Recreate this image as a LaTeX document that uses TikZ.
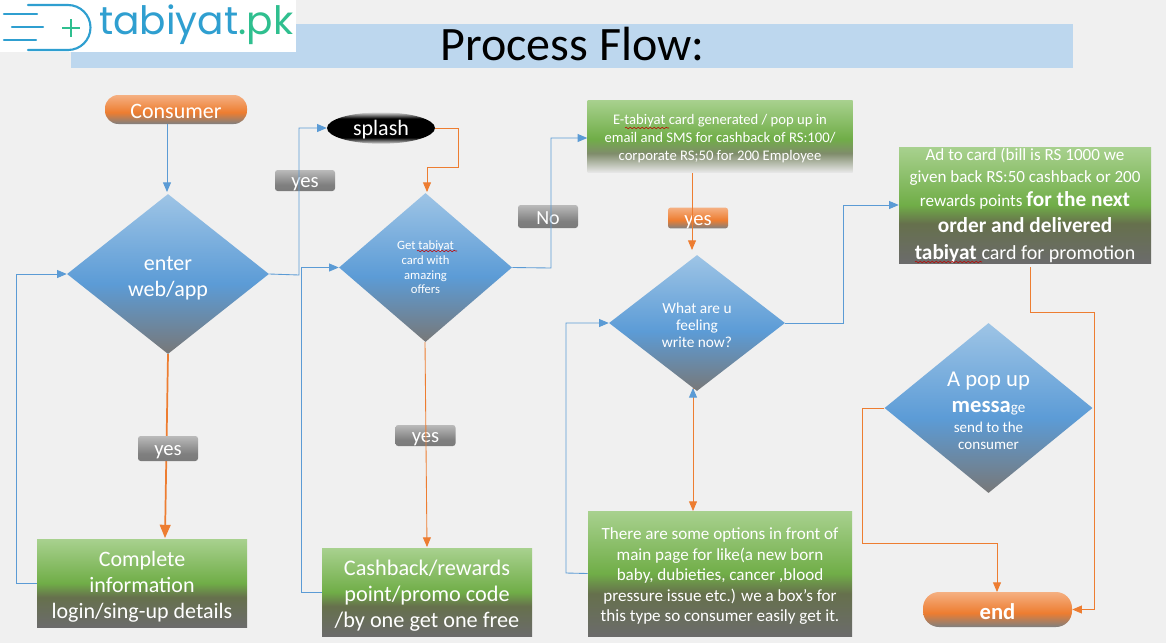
\documentclass[tikz,border=0pt]{standalone}
\usepackage{fontspec}
\setmainfont{Carlito}
\newfontfamily\logofont{Poppins}
\usetikzlibrary{arrows,calc,shapes.geometric,decorations.pathmorphing}

\definecolor{pagebg}{HTML}{F0F0F0}
\definecolor{titlebar}{HTML}{BDD7EE}
\definecolor{flowblue}{HTML}{5B9BD5}
\definecolor{floworange}{HTML}{ED7D31}
\definecolor{logoblue}{HTML}{2F9FD0}
\definecolor{logogreen}{HTML}{2FBF8F}

\pgfdeclareverticalshading{greenfade}{100bp}{rgb(0bp)=(0.42,0.42,0.42); rgb(25bp)=(0.42,0.42,0.42); rgb(42bp)=(0.40,0.44,0.30); rgb(50bp)=(0.44,0.68,0.28); rgb(75bp)=(0.66,0.82,0.56); rgb(100bp)=(0.66,0.82,0.56)}
\pgfdeclareverticalshading{cardfade}{100bp}{rgb(0bp)=(0.90,0.90,0.90); rgb(25bp)=(0.90,0.90,0.90); rgb(38bp)=(0.50,0.55,0.42); rgb(48bp)=(0.44,0.68,0.28); rgb(75bp)=(0.66,0.82,0.56); rgb(100bp)=(0.66,0.82,0.56)}
\pgfdeclareverticalshading{bluefade}{100bp}{rgb(0bp)=(0.47,0.47,0.47); rgb(25bp)=(0.47,0.47,0.47); rgb(47bp)=(0.36,0.61,0.84); rgb(75bp)=(0.62,0.77,0.90); rgb(100bp)=(0.62,0.77,0.90)}
\pgfdeclareverticalshading{orangefade}{100bp}{rgb(0bp)=(0.50,0.50,0.50); rgb(25bp)=(0.50,0.50,0.50); rgb(45bp)=(0.93,0.49,0.19); rgb(75bp)=(0.96,0.69,0.51); rgb(100bp)=(0.96,0.69,0.51)}
\pgfdeclareverticalshading{greyfade}{100bp}{rgb(0bp)=(0.48,0.48,0.48); rgb(25bp)=(0.48,0.48,0.48); rgb(40bp)=(0.50,0.50,0.50); rgb(75bp)=(0.73,0.73,0.73); rgb(100bp)=(0.73,0.73,0.73)}
\pgfdeclareverticalshading{splashfade}{100bp}{rgb(0bp)=(0.85,0.85,0.85); rgb(25bp)=(0.85,0.85,0.85); rgb(35bp)=(0,0,0); rgb(65bp)=(0,0,0); rgb(75bp)=(0.85,0.85,0.85); rgb(100bp)=(0.85,0.85,0.85)}

\newcommand{\pxu}{0.75pt}
\newcommand{\txt}[2]{\fontsize{#1}{#2}\selectfont}
\newcommand{\up}{\rule{0pt}{1em}}

\tikzset{
	sized/.style 2 args={minimum width=#1*\pxu, minimum height=#2*\pxu, inner sep=0pt, text=white, align=center},
	lowered/.style={execute at begin node={\rule{0pt}{0.85em}}},
	greenbox/.style={rectangle, shading=greenfade},
	decision/.style={diamond, aspect=1, shading=bluefade},
	terminal/.style={rectangle, rounded corners=10pt, shading=orangefade, lowered},
	tag/.style={rectangle, rounded corners=2pt, shading=greyfade, sized={60}{#1}, font=\txt{15.5}{17}, lowered},
	blueline/.style={draw=flowblue, line width=0.65pt, ->},
	orangeline/.style={draw=floworange, line width=0.65pt, ->},
	squiggle/.style={draw=red!75!black, line width=0.4pt, decorate, decoration={snake, amplitude=0.6pt, segment length=3pt}}
}

\begin{document}
\begin{tikzpicture}[x=0.75pt, y=-0.75pt, >=triangle 45]
	\fill[pagebg] (0,0) rectangle (1166,643);
	\useasboundingbox (0,0) rectangle (1166,643);

	% heading
	\fill[titlebar] (71,24) rectangle (1073,68);
	\node[font=\txt{36}{40}] (title) at (572.5,44) {Process Flow:};

	% logo
	\fill[white] (0,0) rectangle (296,52);
	\draw[logoblue, line width=1.6pt, line cap=round] (4,14) -- (37,14) (12,27) -- (43,27) (4,40) -- (36,40);
	\draw[logoblue, line width=1.6pt, line cap=round] (28,5) -- (68,5) arc (90:-90:16.875pt) -- (28,50);
	\draw[logogreen, line width=1.6pt] (62,28) -- (80,28) (71,19) -- (71,37);
	\node[inner sep=0pt, anchor=west, font=\logofont\txt{29.3}{34}] (logo) at (99,25) {\textcolor{logoblue}{tabiyat}\textcolor{logogreen}{.pk}};

	% tags that the lines run over
	\node[tag=21] (yessplash) at (305,180.5) {yes};
	\node[tag=23, font=\txt{15}{17}] (nocard) at (548,216.5) {No};
	\node[tag=21] (yescash) at (425.5,435.5) {yes};
	\node[rectangle, rounded corners=2pt, shading=orangefade, sized={60}{20}, font=\txt{15.5}{17}, lowered] (yesfeel) at (698,218) {yes};

	% first column
	\node[terminal, sized={142}{29}, font=\txt{16.5}{18}] (consumer) at (176,109.5) {Consumer};
	\node[decision, sized={202}{160}, font=\txt{16.5}{19.5}] (enter) at (168,274) {\up enter\\web/app};
	\node[greenbox, sized={210}{88}, font=\txt{16.5}{19.5}] (complete) at (142,583) {\up Complete\\information\\login/sing-up details};

	% second column
	\node[ellipse, shading=splashfade, sized={108}{29}, font=\txt{16.5}{18}, lowered] (splash) at (381,128) {splash};
	\node[decision, sized={173}{149}, font=\txt{9.5}{11}] (card) at (425.5,267.5) {Get tabiyat\\card with\\amazing\\offers};
	\node[greenbox, sized={210}{88}, font=\txt{16.7}{19.5}] (cashback) at (427,592) {\up Cashback/rewards\\point/promo code\\/by one get one free};

	% third column
	\node[rectangle, shading=cardfade, sized={265}{72}, font=\txt{11}{13.5}] (ecard) at (720,136) {\up E-tabiyat card generated / pop up in\\email and SMS for cashback of RS:100/\\corporate RS;50 for 200 Employee};
	\node[decision, sized={176}{136}, font=\txt{11.5}{13}] (feeling) at (697,323) {\up What are u\\feeling\\write now?};
	\node[greenbox, sized={264}{125}, font=\txt{12.8}{15.4}] (options) at (720,573.5) {\up There are some options in front of\\main page for like(a new born\\baby, dubieties, cancer ,blood\\pressure issue etc.) we a box’s for\\this type so consumer easily get it.};

	% fourth column
	\node[rectangle, shading=greenfade, sized={252}{116}] (adcard) at (1025,205) {};
	\node[text=white, align=center, inner sep=0pt, font=\txt{12.8}{18}] (adtext) at (1025,205.5) {Ad to card  (bill is RS 1000 we\\[-2pt]given back RS:50 cashback or 200\\rewards points \txt{16}{18}\textbf{for the next}\\[1.5pt]\txt{16}{18}\textbf{order and delivered}\\[2.5pt]\txt{16}{18}\textbf{tabiyat} \txt{15}{18}card for promotion};
	\node[decision, sized={208}{170}, font=\txt{11.3}{13}] (popup) at (988.5,408) {\mbox{}\\[2pt]\txt{17}{13}A pop up\\[7pt]\txt{17}{13}\textbf{messa}\txt{11.3}{13}ge\\[1.5pt]send to the\\consumer};
	\node[terminal, rounded corners=12pt, sized={149}{35}, font=\txt{17}{18}\bfseries] (end) at (997.5,609.5) {end};

	% spell checker marks
	\path[squiggle] (417,251) -- (457,251);
	\path[squiggle] (625,128) -- (669,128);
	\path[squiggle] (915,262) -- (982,262);

	% free ends of the lines
	\coordinate (consumerout) at (167,124);
	\coordinate (enterin) at (167,192);
	\coordinate (enterdown) at (168,354);
	\coordinate (completein) at (165,538);
	\coordinate (carddown) at (425,342);
	\coordinate (cashin) at (427,547);
	\coordinate (ecardout) at (692,173);
	\coordinate (feelingin) at (692,250);
	\coordinate (feelingdown) at (693,388);
	\coordinate (optionsin) at (693,511);
	\coordinate (adout) at (1030,267);
	\coordinate (endin) at (997,592);

	% connectors
	\draw[blueline] (consumerout) -- (enterin);
	\draw[orangeline, line width=1.3pt] (enterdown) -- (completein);
	\draw[blueline] (complete.west) -- (16,583) |- (enter.west);
	\draw[blueline] (enter.east) -- (299,275) |- (splash.west);
	\draw[blueline] (cashback.west) -- (301,592) |- (card.west);
	\draw[orangeline] (splash.east) -- (458,128) |- (427,167) -- (427,192);
	\draw[orangeline] (carddown) -- (cashin);
	\draw[blueline] (card.east) -- (551,268) |- ([yshift=-1.5pt]ecard.west);
	\draw[orangeline] (ecardout) -- (feelingin);
	\draw[blueline] (feeling.east) -- (843,323) |- (adcard.west);
	\draw[blueline] (options.west) -- (566,573) |- (feeling.west);
	\draw[orangeline] (feelingdown) -- (optionsin);
	\draw[flowblue, line width=0.65pt, ->] (693,392) -- (feelingdown);
	\draw[orangeline] (adout) -- (1030,312) -- (1094,312) |- (end.east);
	\draw[orangeline] (popup.west) -- (862,408) |- (997,543) -- (endin);

	% this tag hides its line
	\node[tag=25] (yescomplete) at (168,448.5) {yes};
\end{tikzpicture}
\end{document}
